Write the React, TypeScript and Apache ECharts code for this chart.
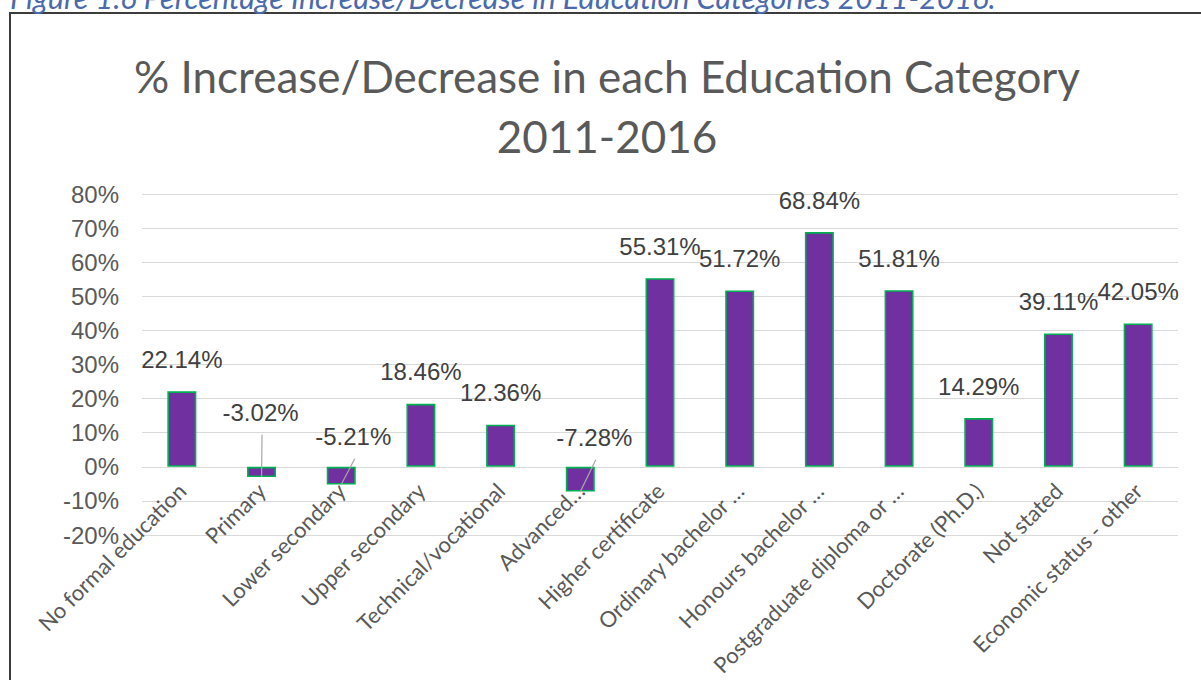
import React, { useEffect, useRef } from "react";
import * as echarts from "echarts";

const categories = [
  "No formal education",
  "Primary",
  "Lower secondary",
  "Upper secondary",
  "Technical/vocational",
  "Advanced…",
  "Higher certificate",
  "Ordinary bachelor …",
  "Honours bachelor …",
  "Postgraduate diploma or …",
  "Doctorate (Ph.D.)",
  "Not stated",
  "Economic status - other",
];

const changePct = [22.14, -3.02, -5.21, 18.46, 12.36, -7.28, 55.31, 51.72, 68.84, 51.81, 14.29, 39.11, 42.05];

const yMin = -20;
const yMax = 80;
const yStep = 10;

const chartTitle = "% Increase/Decrease in each Education Category\n2011-2016";
const captionText = "Figure 1.6 Percentage Increase/Decrease in Education Categories 2011-2016.";

// label nudges (pixels) mimicking the original's best-fit placement
const labelDx = [0, -1, 12, 0, 0, 14, 0, 0, 0, 0, 0, 0, 0];
const labelDy = [0, -22, 2, 0, 0, 3, 0, 0, 0, 0, 0, 0, 0];

export default function App() {
  const ref = useRef<HTMLDivElement>(null);

  useEffect(() => {
    document.body.style.margin = "0";
    if (!ref.current) return;
    const chart = echarts.init(ref.current, null, { renderer: "svg" });

    const GRID_TOP = 194;
    const GRID_BOTTOM = 145;
    const plotH = 680 - GRID_TOP - GRID_BOTTOM;
    const zeroOffset = (plotH * (0 - yMin)) / (yMax - yMin);

    chart.setOption({
      animation: false,
      backgroundColor: "#ffffff",
      graphic: [
        {
          type: "polyline",
          shape: { points: [[10, 720], [10, 13], [1230, 13]] },
          style: { stroke: "#3c3c3c", lineWidth: 2, fill: null },
          silent: true,
        },
        {
          type: "text",
          left: 10,
          top: -18,
          style: {
            text: captionText,
            font: "italic 30.5px Lato",
            fill: "#4a6aab",
          },
          silent: true,
        },
        {
          type: "text",
          x: 607,
          y: 46,
          style: {
            text: chartTitle,
            font: "normal 44px Lato",
            lineHeight: 60,
            align: "center",
            verticalAlign: "top",
            fill: "#595959",
          },
          silent: true,
        },
      ],
      grid: {
        left: 142,
        right: 23,
        top: GRID_TOP,
        bottom: GRID_BOTTOM,
        containLabel: false,
        outerBoundsMode: "none",
      },
      xAxis: {
        type: "category",
        data: categories,
        offset: -zeroOffset,
        axisLine: { onZero: false, lineStyle: { color: "#d9d9d9", width: 1 } },
        axisTick: { show: false },
        axisLabel: {
          interval: 0,
          rotate: 45,
          margin: 20,
          fontFamily: "Lato",
          fontSize: 22,
          color: "#595959",
        },
        splitLine: { show: false },
      },
      yAxis: {
        type: "value",
        min: yMin,
        max: yMax,
        interval: yStep,
        axisLine: { show: false },
        axisTick: { show: false },
        axisLabel: {
          formatter: "{value}%",
          fontFamily: "Liberation Sans",
          fontSize: 24,
          color: "#595959",
          margin: 23,
        },
        splitLine: { lineStyle: { color: "#d9d9d9", width: 1 } },
      },
      series: [
        {
          type: "bar",
          data: changePct,
          barWidth: 29,
          itemStyle: {
            color: "#7030a0",
            borderColor: "#00b050",
            borderWidth: 1.6,
          },
          label: {
            show: true,
            position: "top",
            distance: 20,
            formatter: (p: any) => p.value.toFixed(2) + "%",
            fontFamily: "Liberation Sans",
            fontSize: 24,
            color: "#404040",
          },
          labelLayout: (p: any) => ({ dx: labelDx[p.dataIndex], dy: labelDy[p.dataIndex] }),
          z: 2,
        },
        {
          type: "custom",
          data: changePct.map((v, i) => [i, v]),
          z: 5,
          silent: true,
          renderItem: (params: any, api: any) => {
            const i = api.value(0);
            const v = api.value(1);
            if (v >= 0) return null;
            const end = api.coord([i, v]);
            const zero = api.coord([i, 0]);
            return {
              type: "line",
              shape: {
                x1: end[0] + labelDx[i] + 1.5,
                y1: zero[1] - 10 + labelDy[i],
                x2: end[0],
                y2: end[1],
              },
              style: { stroke: "#a6a6a6", lineWidth: 1.2 },
            };
          },
        },
      ],
    });

    return () => chart.dispose();
  }, []);

  return <div ref={ref} style={{ width: 1201, height: 680 }} />;
}
